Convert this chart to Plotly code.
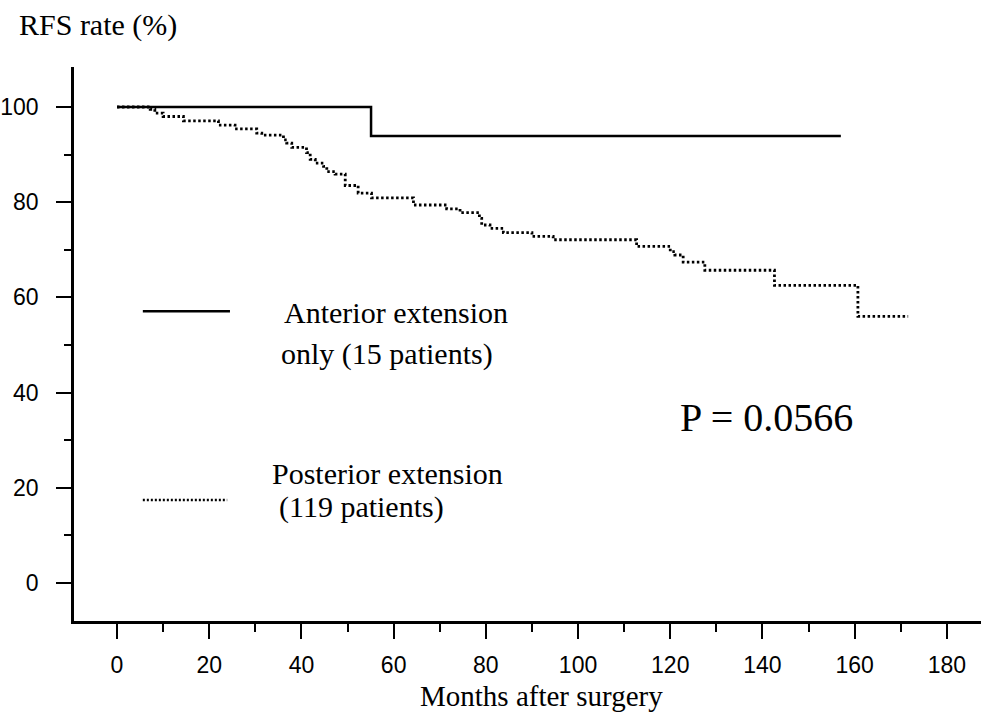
import plotly.graph_objects as go

# Anterior extension only (15 patients) - step curve
ant_months = [0, 55.1, 157.0]
ant_rfs = [100, 93.9, 93.9]

# Posterior extension (119 patients) - step curve
post_months = [0, 7.2, 8.2, 10, 14.4, 22, 25.6, 30.3, 31.4, 36.1, 36.8, 37.9, 41.1, 41.9,
               43, 44.8, 45.5, 47.3, 49.5, 52.3, 55.2, 64.3, 71.5, 74.4, 78.6, 79.1, 80.9,
               83.8, 90, 94.6, 112.7, 120, 121, 122.8, 127.5, 142.6, 160.7, 171.6]
post_rfs = [100, 99.5, 98.7, 98.0, 97.1, 96.2, 95.4, 94.5, 94.1, 93.1, 92.4, 91.5, 90.4, 89.0,
            88.2, 87.5, 86.4, 85.9, 83.5, 81.9, 80.9, 79.4, 78.6, 77.8, 76.6, 75.2, 74.5,
            73.6, 72.8, 72.1, 70.7, 69.6, 68.9, 67.4, 65.7, 62.5, 56.0, 56.0]

x_ticks = [0, 20, 40, 60, 80, 100, 120, 140, 160, 180]
y_ticks = [0, 20, 40, 60, 80, 100]

serif = "Liberation Serif, Times New Roman, serif"
sans = "Liberation Sans, Arial, sans-serif"

fig = go.Figure()
fig.add_trace(go.Scatter(x=ant_months, y=ant_rfs, mode="lines", line_shape="hv",
                         line=dict(color="black", width=2.5), showlegend=False))
fig.add_trace(go.Scatter(x=post_months, y=post_rfs, mode="lines", line_shape="hv",
                         line=dict(color="black", width=2.8, dash="2.5px,2.5px"), showlegend=False))

# legend samples
fig.add_shape(type="line", xref="x", yref="y", x0=5.6, x1=24.5, y0=57.1, y1=57.1,
              line=dict(color="black", width=2.5))
fig.add_shape(type="line", xref="x", yref="y", x0=5.6, x1=23.9, y0=17.4, y1=17.4,
              line=dict(color="black", width=2.5, dash="2px,2px"))

def ann(x, y, text, size=30, xref="x", yref="y", xanchor="left"):
    fig.add_annotation(x=x, y=y, xref=xref, yref=yref, text=text, showarrow=False,
                       xanchor=xanchor, yanchor="middle",
                       font=dict(family=serif, size=size, color="black"))

ann(35.8, 56.8, "Anterior extension")
ann(35.1, 48.1, "only (15 patients)")
ann(33.2, 23.0, "Posterior extension")
ann(34.6, 15.9, "(119 patients)")
ann(121.7, 34.7, "P = 0.0566", size=40)
ann(-0.0628, 1.0758, "RFS rate (%)", xref="paper", yref="paper")
ann(92, -0.136, "Months after surgery", size=29, xref="x", yref="paper", xanchor="center")

fig.update_xaxes(range=[-9.33, 187.4], tickvals=x_ticks, ticks="outside", ticklen=15,
                 tickwidth=2.2, tickcolor="black", showline=True, linecolor="black",
                 linewidth=2.5, showgrid=False, zeroline=False, ticklabelstandoff=7,
                 tickfont=dict(family=sans, size=23, color="black"),
                 minor=dict(dtick=10, ticks="outside", ticklen=8, tickwidth=2.2,
                            tickcolor="black", showgrid=False))
fig.update_yaxes(range=[-8.0, 108.4], tickvals=y_ticks, ticks="outside", ticklen=15,
                 tickwidth=2.2, tickcolor="black", showline=True, linecolor="black",
                 linewidth=2.5, showgrid=False, zeroline=False, ticklabelstandoff=13,
                 tickfont=dict(family=sans, size=23, color="black"),
                 minor=dict(dtick=10, ticks="outside", ticklen=7, tickwidth=2.2,
                            tickcolor="black", showgrid=False))

fig.update_layout(width=981, height=713, margin=dict(l=74, r=0, t=67, b=92),
                  plot_bgcolor="white", paper_bgcolor="white", showlegend=False)

fig.write_html("out.html")
